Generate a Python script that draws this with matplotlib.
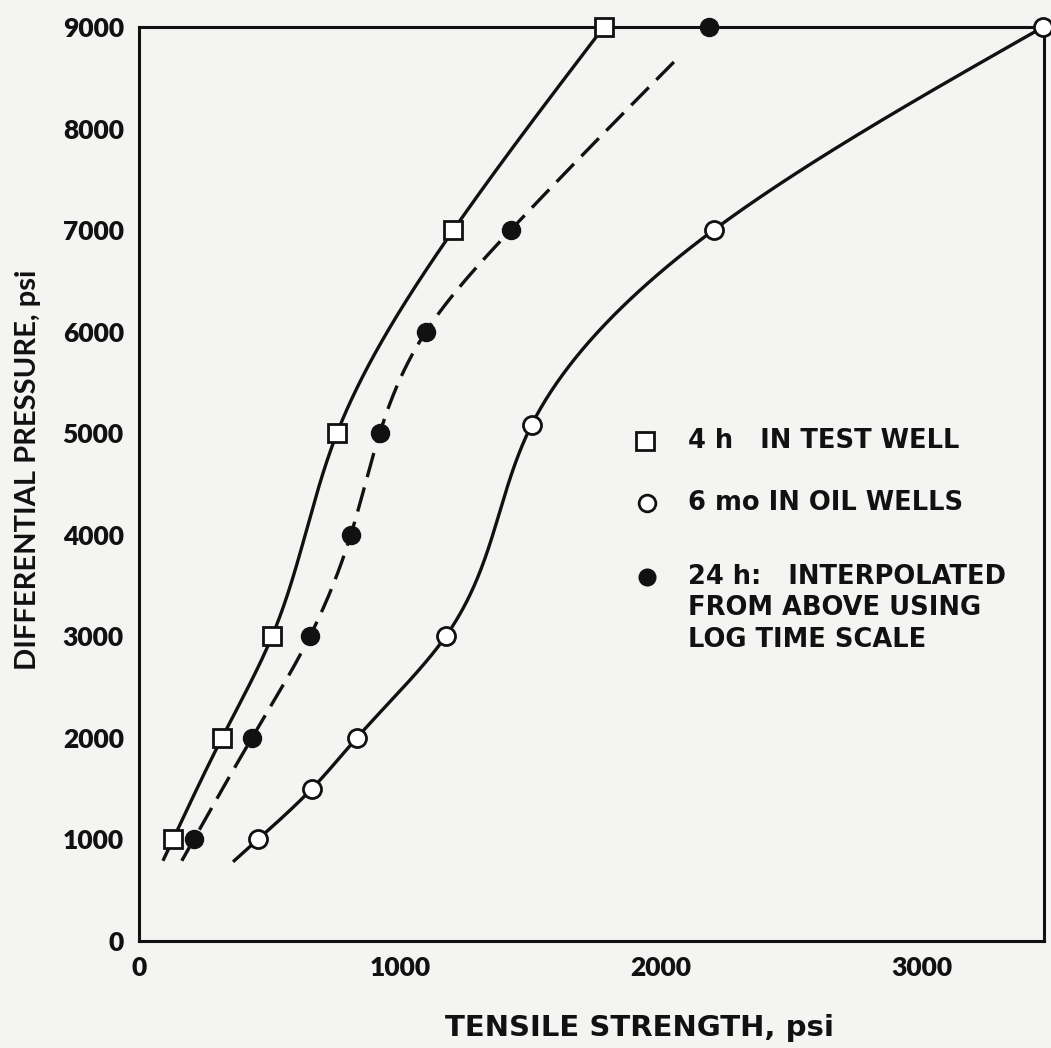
import numpy as np
import matplotlib
matplotlib.use("Agg")
import matplotlib.pyplot as plt

# ---- data (tensile strength, psi  vs differential pressure, psi) ----
sq_x = [130, 318, 510, 759, 1205, 1782]          # 4 h in test well
sq_y = [1000, 2000, 3000, 5000, 7000, 9000]
op_x = [456, 663, 835, 1176, 1505, 2203, 3467]   # 6 mo in oil wells
op_y = [1000, 1500, 2000, 3000, 5080, 7000, 9000]
fi_x = [210, 433, 655, 812, 923, 1100, 1425, 2184]  # 24 h interpolated
fi_y = [1000, 2000, 3000, 4000, 5000, 6000, 7000, 9000]
# curve extents (pressure, psi)
sq_curve = (790, 9000)
op_curve = (780, 9000)
fi_curve = (790, 8670)

x_ticks = [0, 1000, 2000, 3000]
y_ticks = [0, 1000, 2000, 3000, 4000, 5000, 6000, 7000, 8000, 9000]
x_label = "TENSILE STRENGTH, psi"
y_label = "DIFFERENTIAL PRESSURE, psi"
legend_lines = ["4 h   IN TEST WELL", "6 mo IN OIL WELLS",
                "24 h:   INTERPOLATED", "FROM ABOVE USING", "LOG TIME SCALE"]


def natural_spline(xk, yk, xq):
    xk = np.asarray(xk, float); yk = np.asarray(yk, float)
    n = len(xk); h = np.diff(xk)
    A = np.zeros((n, n)); r = np.zeros(n)
    A[0, 0] = 1; A[-1, -1] = 1
    for i in range(1, n - 1):
        A[i, i - 1] = h[i - 1]; A[i, i] = 2 * (h[i - 1] + h[i]); A[i, i + 1] = h[i]
        r[i] = 6 * ((yk[i + 1] - yk[i]) / h[i] - (yk[i] - yk[i - 1]) / h[i - 1])
    M = np.linalg.solve(A, r)
    xq = np.asarray(xq, float); out = np.empty_like(xq)
    d0 = (yk[1] - yk[0]) / h[0] - h[0] * (2 * M[0] + M[1]) / 6
    d1 = (yk[-1] - yk[-2]) / h[-1] + h[-1] * (M[-2] + 2 * M[-1]) / 6
    for j, x in enumerate(xq):
        if x <= xk[0]:
            out[j] = yk[0] + d0 * (x - xk[0]); continue
        if x >= xk[-1]:
            out[j] = yk[-1] + d1 * (x - xk[-1]); continue
        i = min(np.searchsorted(xk, x) - 1, n - 2)
        a = xk[i + 1] - x; b = x - xk[i]
        out[j] = (M[i] * a**3 + M[i + 1] * b**3) / (6 * h[i]) \
            + (yk[i] / h[i] - M[i] * h[i] / 6) * a \
            + (yk[i + 1] / h[i] - M[i + 1] * h[i] / 6) * b
    return out


def curve(xs, ys, ext):
    yy = np.linspace(ext[0], ext[1], 500)
    return natural_spline(ys, xs, yy), yy


plt.rcParams['font.family'] = ['Lato', 'DejaVu Sans']
ink = '#111111'
bg = '#f4f4f2'

fig = plt.figure(figsize=(10.51, 10.48), dpi=100, facecolor=bg)
ax = fig.add_axes([0.1323, 0.1021, 0.8610, 0.8721])
ax.set_facecolor(bg)

lw = 2.4
cx, cy = curve(sq_x, sq_y, sq_curve)
ax.plot(cx, cy, color=ink, lw=lw, solid_capstyle='butt', zorder=2)
cx, cy = curve(op_x, op_y, op_curve)
ax.plot(cx, cy, color=ink, lw=lw, solid_capstyle='butt', zorder=2)
cx, cy = curve(fi_x, fi_y, fi_curve)
ax.plot(cx, cy, color=ink, lw=lw, dashes=(7.5, 3.2), dash_capstyle='butt', zorder=2)

ax.plot(sq_x, sq_y, ls='none', marker='s', ms=13.5, mfc='white', mec=ink, mew=2.0,
        zorder=4, clip_on=False)
ax.plot(op_x, op_y, ls='none', marker='o', ms=13, mfc='white', mec=ink, mew=2.0,
        zorder=4, clip_on=False)
ax.plot(fi_x, fi_y, ls='none', marker='o', ms=13, mfc=ink, mec=ink, mew=1.0,
        zorder=5, clip_on=False)

ax.set_xlim(0, 3470)
ax.set_ylim(0, 9000)
ax.set_xticks(x_ticks)
ax.set_yticks(y_ticks)
ax.tick_params(length=0, labelsize=19, colors=ink, pad=11)
for lab in ax.get_xticklabels() + ax.get_yticklabels():
    lab.set_fontweight('heavy')
for s in ax.spines.values():
    s.set_linewidth(2.2)
    s.set_color(ink)

ax.set_xlabel(x_label, fontsize=21, fontweight='bold', color=ink,
              family=['DejaVu Sans'])
ax.xaxis.set_label_coords(0.553, -0.080)
ax.set_ylabel(y_label, fontsize=21, fontweight='bold', color=ink)
ax.yaxis.set_label_coords(-0.108, 0.515)

# legend drawn in axes coordinates
tr = ax.transAxes
ax.plot([0.559], [0.547], marker='s', ms=13.5, mfc='white', mec=ink, mew=2.0,
        transform=tr, clip_on=False)
ax.plot([0.561], [0.479], marker='o', ms=12, mfc='white', mec=ink, mew=2.0,
        transform=tr, clip_on=False)
ax.plot([0.561], [0.398], marker='o', ms=12, mfc=ink, mec=ink,
        transform=tr, clip_on=False)
ly = [0.547, 0.479, 0.398, 0.364, 0.329]
for txt, yv in zip(legend_lines, ly):
    ax.text(0.607, yv, txt, transform=tr, fontsize=18.5, fontweight='bold',
            color=ink, va='center', ha='left', family=['DejaVu Sans'])

fig.savefig("out.png", dpi=100, facecolor=bg)
